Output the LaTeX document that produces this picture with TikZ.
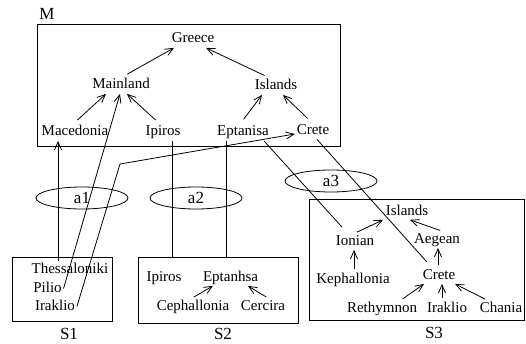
\documentclass[tikz,border=0pt]{standalone}
\usepackage{fontspec}
\setmainfont{Liberation Serif}
\usetikzlibrary{arrows.meta,shapes.geometric}
\begin{document}
\begin{tikzpicture}[x=1pt,y=-1pt,line width=0.8pt]
  \tikzstyle{lbl}=[anchor=base,inner sep=1.5pt,text height=10pt,text depth=3pt,font=\fontsize{15}{18}\selectfont]
  \tikzstyle{title}=[anchor=base,inner sep=1.5pt,font=\fontsize{17}{20}\selectfont]
  \tikzstyle{isa}=[-{Straight Barb[length=8pt,width=7pt]}]
  \tikzstyle{frame}=[draw,inner sep=0pt,outer sep=0pt]
  \tikzstyle{attr}=[draw,ellipse,minimum width=92pt,minimum height=22pt,inner sep=0pt,font=\fontsize{17}{20}\selectfont]
  \useasboundingbox (0,0) rectangle (526,344);

  % frames of the schemas
  \node[frame,minimum width=303pt,minimum height=122pt] (boxM) at (188.5,85) {};
  \node[frame,minimum width=100pt,minimum height=64pt] (boxS1) at (62,289) {};
  \node[frame,minimum width=160pt,minimum height=66pt] (boxS2) at (218,290) {};
  \node[frame,minimum width=215pt,minimum height=121pt] (boxS3) at (416.5,259.5) {};
  \foreach \n/\x/\y/\t in {labM/47/20/M, labS1/69/339/S1, labS2/223/339/S2, labS3/434/338/S3}
    \node[title] (\n) at (\x,\y) {\t};

  % terms, placed on their baselines
  \foreach \n/\x/\y/\t in {greece/193/43/Greece, mainland/121/89/Mainland, islands/276/90/Islands,
      mace/75/136/Macedonia, ipirosM/163/136/Ipiros, eptanisa/243/136/Eptanisa, creteM/313/134.5/Crete,
      thes/70/273/Thessaloniki, pilio/47.5/292/Pilio, irakS1/55/310/Iraklio,
      ipirosS/164/281/Ipiros, eptanhsa/230.5/281/Eptanhsa, ceph/193/310/Cephallonia, cerc/263/310/Cercira,
      islS/407/215/Islands, ionian/355/245/Ionian, aegean/437/243/Aegean, keph/353/283/Kephallonia,
      creteS/439/279/Crete, reth/382/312/Rethymnon, irakS3/447/312/Iraklio, chania/501/312/Chania}
    \node[lbl] (\n) at (\x,\y) {\t};

  % articulations
  \foreach \n/\x/\y in {a1/82/198, a2/196/198, a3/331/181}
    \node[attr] (\n) at (\x,\y) {\n};

  % hierarchy of M
  \foreach \a/\da/\b/\db in {mainland/1/greece/-19, islands/-6/greece/13,
      mace/-2/mainland/-15, ipirosM/-3/mainland/6, eptanisa/-3/islands/-14, creteM/-1/islands/7}
    \draw[isa,shorten <=6pt] ([xshift=\da pt]\a.north) -- ([xshift=\db pt]\b.south);

  % hierarchies of the sources
  \foreach \a/\da/\b/\db in {ceph/-1/eptanhsa/-17.5, cerc/5/eptanhsa/17.5,
      ionian/0/islS/-24, aegean/5/islS/3, keph/1/ionian/-1, creteS/-1/aegean/1,
      reth/19/creteS/-15, irakS3/-5/creteS/3, chania/-14/creteS/16}
    \draw[isa,shorten <=2pt] ([xshift=\da pt]\a.north) -- ([xshift=\db pt]\b.south);

  % mappings between sources and M
  \coordinate (bend) at (120,164);
  \draw[isa] ([xshift=-12pt]thes.north) -- ([xshift=-17pt]mace.south);
  \draw[isa] (pilio.east) -- ([xshift=-1pt]mainland.south);
  \draw[isa] (irakS1.east) -- (bend) -- ([yshift=-3pt]creteM.west);
  \draw ([xshift=-46pt]boxS2.north) -- ([xshift=9pt]ipirosM.south);
  \draw ([xshift=8pt]boxS2.north) -- ([xshift=-17pt]eptanisa.south);
  \draw ([xshift=21pt]eptanisa.south) -- ([xshift=-13pt,yshift=6pt]ionian.north);
  \draw ([xshift=4pt]creteM.south) -- ([xshift=-12pt,yshift=5pt]creteS.north);
\end{tikzpicture}
\end{document}
